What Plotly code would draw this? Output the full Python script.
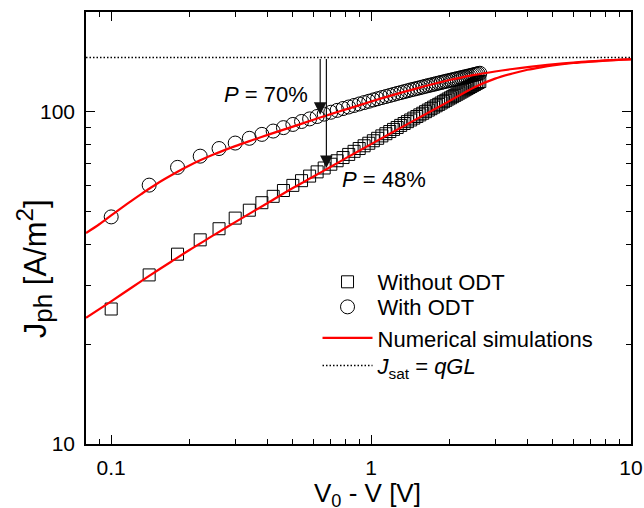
import numpy as np
import plotly.graph_objects as go

# ---------------- data ----------------
v_meas = [0.10, 0.14, 0.18, 0.22, 0.26, 0.30, 0.34, 0.38, 0.42, 0.46,
          0.50, 0.54, 0.58, 0.62, 0.66, 0.70, 0.74, 0.78, 0.82, 0.86,
          0.90, 0.94, 0.98, 1.02, 1.06, 1.10, 1.14, 1.18, 1.22, 1.26,
          1.30, 1.34, 1.38, 1.42, 1.46, 1.50, 1.54, 1.58, 1.62, 1.66,
          1.70, 1.74, 1.78, 1.82, 1.86, 1.90, 1.94, 1.98, 2.02, 2.06,
          2.10, 2.14, 2.18, 2.22, 2.26, 2.30, 2.34, 2.38, 2.42, 2.46,
          2.50, 2.54, 2.58, 2.62]

j_without_odt = [25.5, 32.3, 37.3, 41.2, 44.5, 47.9, 50.6, 53.3, 55.7, 58.0,
                 60.1, 62.1, 64.1, 66.0, 67.8, 69.6, 71.3, 72.9, 74.5, 76.1,
                 77.6, 79.1, 80.5, 81.9, 83.3, 84.7, 86.0, 87.3, 88.6, 89.8,
                 91.1, 92.3, 93.5, 94.6, 95.8, 96.9, 98.0, 99.1, 100.2, 101.3,
                 102.3, 103.4, 104.4, 105.4, 106.4, 107.4, 108.4, 109.4, 110.3, 111.2,
                 112.2, 113.1, 114.0, 114.9, 115.8, 116.7, 117.6, 118.5, 119.3, 120.2,
                 121.0, 121.9, 122.7, 123.5]

j_with_odt = [48.3, 60.2, 68.1, 73.6, 77.6, 80.6, 83.3, 85.6, 87.6, 89.7,
              91.7, 93.6, 95.3, 96.9, 98.5, 99.8, 101.1, 102.4, 103.5, 104.6,
              105.7, 106.7, 107.7, 108.7, 109.6, 110.5, 111.3, 112.1, 112.9, 113.7,
              114.4, 115.1, 115.8, 116.5, 117.1, 117.7, 118.3, 118.9, 119.5, 120.1,
              120.6, 121.1, 121.7, 122.2, 122.7, 123.2, 123.7, 124.1, 124.6, 125.0,
              125.5, 125.9, 126.3, 126.8, 127.2, 127.6, 128.0, 128.4, 128.8, 129.2,
              129.6, 130.0, 130.4, 130.8]

v_sim_without = [0.08, 0.10, 0.12, 0.14, 0.17, 0.20, 0.25, 0.30, 0.40, 0.50, 0.60,
                 0.70, 0.80, 1.0, 1.2, 1.5, 2.0, 2.5, 3.0, 3.5, 4.0, 4.5, 5.0,
                 6.0, 7.0, 8.0, 10.0]
sim_without_odt = [24.0, 26.9, 29.6, 32.1, 35.4, 38.4, 42.7, 46.6, 53.2, 59.0, 63.9,
                   68.4, 72.6, 80.0, 86.6, 95.3, 107.8, 118.7, 126.0, 130.6, 134.0,
                   136.3, 138.1, 140.4, 141.8, 142.8, 143.9]

v_sim_with = [0.08, 0.09, 0.10, 0.11, 0.12, 0.13, 0.14, 0.15, 0.16, 0.18, 0.20,
              0.22, 0.25, 0.30, 0.35, 0.40, 0.50, 0.60, 0.70, 0.80, 1.0, 1.2,
              1.5, 2.0, 2.5, 3.0, 3.5, 4.0, 4.5, 5.0, 6.0, 7.0, 8.0, 10.0]
sim_with_odt = [43.2, 45.9, 48.8, 51.5, 54.1, 56.5, 58.7, 60.8, 62.7, 66.1, 69.0,
                71.5, 74.7, 78.9, 82.3, 85.3, 90.3, 94.7, 98.5, 101.8, 107.5, 112.2,
                117.8, 124.8, 129.3, 132.4, 134.7, 136.5, 137.9, 139.1, 140.9, 142.1,
                143.0, 144.1]

j_sat = 146.0
x_limits = [0.08, 10.0]
y_limits = [10.0, 200.0]

x_major = [0.1, 1, 10]
x_major_text = ["0.1", "1", "10"]
x_minor = [0.08, 0.09, 0.2, 0.3, 0.4, 0.5, 0.6, 0.7, 0.8, 0.9,
           2, 3, 4, 5, 6, 7, 8, 9]
y_major = [10, 100]
y_major_text = ["10", "100"]
y_minor = [20, 30, 40, 50, 60, 70, 80, 90, 200]

# arrows: x position, tip value
arrow_70 = (0.637, 98.0)
arrow_48 = (0.673, 67.8)

FONT = "Liberation Sans, Arial, sans-serif"
LEG_FONT = dict(family=FONT, size=22, color="black")

fig = go.Figure()

fig.add_trace(go.Scatter(
    x=v_meas, y=j_without_odt, mode="markers", name="Without ODT", legend="legend",
    marker=dict(symbol="square-open", size=12, color="black", line=dict(width=1))))
fig.add_trace(go.Scatter(
    x=v_meas, y=j_with_odt, mode="markers", name="With ODT", legend="legend2",
    marker=dict(symbol="circle-open", size=14, color="black", line=dict(width=1))))
fig.add_trace(go.Scatter(
    x=v_sim_without, y=sim_without_odt, mode="lines", name="Numerical simulations",
    legend="legend3",
    line=dict(color="#ff0000", width=2.2, shape="spline", smoothing=0.8)))
fig.add_trace(go.Scatter(
    x=v_sim_with, y=sim_with_odt, mode="lines", name="Numerical simulations",
    line=dict(color="#ff0000", width=2.2, shape="spline", smoothing=0.8),
    showlegend=False))
fig.add_trace(go.Scatter(
    x=x_limits, y=[j_sat, j_sat], mode="lines", legend="legend4",
    name="<i>J</i><sub>sat</sub> = <i>qGL</i>",
    line=dict(color="black", width=1.5, dash="1.5px,2px")))

for (xa, ytip) in (arrow_70, arrow_48):
    fig.add_annotation(
        x=np.log10(xa), y=np.log10(ytip), ax=np.log10(xa), ay=np.log10(j_sat),
        xref="x", yref="y", axref="x", ayref="y", text="",
        showarrow=True, arrowhead=2, arrowsize=2.1, arrowwidth=1.2,
        arrowcolor="#111111", standoff=0, startstandoff=0)

fig.add_annotation(x=np.log10(0.58), y=np.log10(113.0), xref="x", yref="y",
                   text="<i>P</i> = 70%", showarrow=False, xanchor="right",
                   yanchor="middle", font=dict(family=FONT, size=22, color="black"))
fig.add_annotation(x=np.log10(0.76), y=np.log10(62.5), xref="x", yref="y",
                   text="<i>P</i> = 48%", showarrow=False, xanchor="left",
                   yanchor="middle", font=dict(family=FONT, size=22, color="black"))

# axis titles
fig.add_annotation(x=0.5174, y=-0.0740, xref="paper", yref="paper",
                   text="V<sub>0</sub> - V [V]", showarrow=False,
                   xanchor="center", yanchor="top",
                   font=dict(family=FONT, size=26, color="black"))
fig.add_annotation(x=-0.0936, y=0.407, xref="paper", yref="paper",
                   text="J<sub><span style='font-size:26px'>ph</span></sub> [A/m"
                        "<sup><span style='font-size:24px'>2</span></sup>]",
                   showarrow=False, textangle=-90,
                   xanchor="center", yanchor="middle",
                   font=dict(family=FONT, size=31, color="black"))

axis_common = dict(
    type="log", showline=True, linecolor="black", linewidth=1.6, mirror="ticks",
    ticks="inside", ticklen=9, tickwidth=1.4, tickcolor="black",
    showgrid=False, zeroline=False,
    tickfont=dict(family=FONT, size=21, color="black"),
)

fig.update_xaxes(
    **axis_common, ticklabelstandoff=4,
    range=[np.log10(x_limits[0]), np.log10(x_limits[1])],
    tickmode="array", tickvals=x_major, ticktext=x_major_text,
    minor=dict(tickmode="array", tickvals=x_minor, ticks="inside", ticklen=5,
               tickwidth=1.2, tickcolor="black", showgrid=False),
)
fig.update_yaxes(
    **axis_common, ticklabelstandoff=5,
    range=[np.log10(y_limits[0]), np.log10(y_limits[1])],
    tickmode="array", tickvals=y_major, ticktext=y_major_text,
    minor=dict(tickmode="array", tickvals=y_minor, ticks="inside", ticklen=5,
               tickwidth=1.2, tickcolor="black", showgrid=False),
)

leg_common = dict(x=0.4248, xanchor="left", yanchor="middle",
                  bgcolor="rgba(0,0,0,0)", borderwidth=0, font=LEG_FONT,
                  itemwidth=50)

fig.update_layout(
    width=644, height=508,
    margin=dict(l=86, r=13, t=12, b=64, autoexpand=False),
    paper_bgcolor="white", plot_bgcolor="white",
    showlegend=True,
    legend=dict(y=0.375, **leg_common),
    legend2=dict(y=0.317, **leg_common),
    legend3=dict(y=0.245, **leg_common),
    legend4=dict(y=0.181, **leg_common),
)

fig.write_html(
    "out.html",
    config={"displayModeBar": False},
    post_script="document.body.style.margin='0px';document.body.style.overflow='hidden';",
)
